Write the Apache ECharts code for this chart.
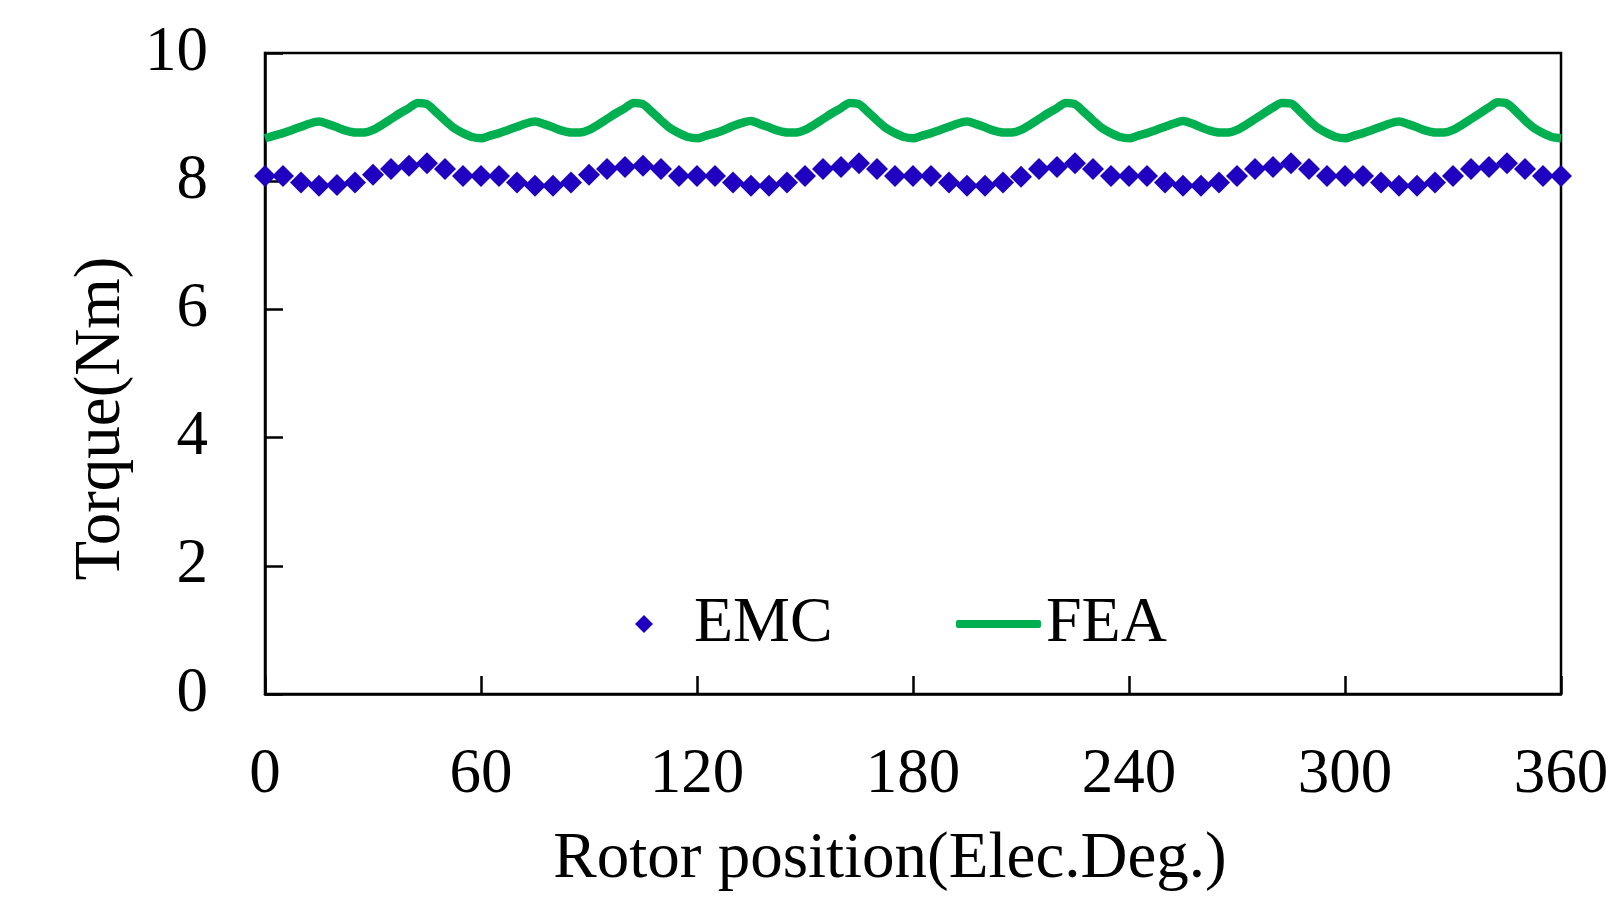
<!DOCTYPE html>
<html lang="en">
<head>
    <meta charset="UTF-8">
    <title>Torque</title>
    <script src="https://cdn.jsdelivr.net/npm/echarts@6/dist/echarts.min.js"></script>
    <style>
        body { margin: 0; background: #fff; }
    </style>
</head>
<body>
<div id="main" style="width: 1606px;height: 898px"></div>
<script>
    // EMC: one point every 5 elec. deg, 0..360
    var emcDeg = [0, 5, 10, 15, 20, 25, 30, 35, 40, 45, 50, 55,
        60, 65, 70, 75, 80, 85, 90, 95, 100, 105, 110, 115,
        120, 125, 130, 135, 140, 145, 150, 155, 160, 165, 170, 175,
        180, 185, 190, 195, 200, 205, 210, 215, 220, 225, 230, 235,
        240, 245, 250, 255, 260, 265, 270, 275, 280, 285, 290, 295,
        300, 305, 310, 315, 320, 325, 330, 335, 340, 345, 350, 355,
        360];
    var emcTorque = [8.08, 8.08, 7.98, 7.93, 7.94, 7.98, 8.10, 8.19, 8.24, 8.28, 8.19, 8.08,
        8.08, 8.08, 7.98, 7.93, 7.93, 7.98, 8.10, 8.19, 8.22, 8.24, 8.19, 8.08,
        8.08, 8.08, 7.98, 7.93, 7.93, 7.98, 8.08, 8.19, 8.22, 8.28, 8.19, 8.08,
        8.08, 8.08, 7.98, 7.93, 7.93, 7.98, 8.07, 8.19, 8.22, 8.28, 8.19, 8.08,
        8.08, 8.08, 7.98, 7.93, 7.93, 7.98, 8.08, 8.19, 8.22, 8.28, 8.19, 8.08,
        8.08, 8.08, 7.98, 7.93, 7.93, 7.98, 8.08, 8.19, 8.22, 8.28, 8.19, 8.08,
        8.08];

    // FEA: one point every 2.5 elec. deg, 0..360
    var feaTorque = [
        8.67, 8.71, 8.75, 8.80, 8.85, 8.90, 8.93, 8.89, 8.84, 8.79, 8.76, 8.76,
        8.80, 8.88, 8.97, 9.06, 9.14, 9.22, 9.20, 9.08, 8.95, 8.83, 8.75, 8.69,
        8.67, 8.71, 8.75, 8.80, 8.85, 8.90, 8.93, 8.89, 8.84, 8.79, 8.76, 8.76,
        8.80, 8.88, 8.97, 9.06, 9.14, 9.22, 9.20, 9.08, 8.95, 8.83, 8.75, 8.69,
        8.67, 8.71, 8.75, 8.80, 8.86, 8.91, 8.94, 8.89, 8.84, 8.79, 8.76, 8.76,
        8.80, 8.88, 8.97, 9.06, 9.14, 9.22, 9.20, 9.08, 8.95, 8.83, 8.75, 8.69,
        8.67, 8.71, 8.75, 8.80, 8.85, 8.90, 8.93, 8.89, 8.84, 8.79, 8.76, 8.76,
        8.80, 8.88, 8.97, 9.06, 9.14, 9.22, 9.20, 9.08, 8.95, 8.83, 8.75, 8.69,
        8.67, 8.71, 8.75, 8.80, 8.85, 8.90, 8.94, 8.90, 8.84, 8.79, 8.76, 8.76,
        8.80, 8.88, 8.97, 9.06, 9.15, 9.22, 9.21, 9.09, 8.95, 8.83, 8.75, 8.69,
        8.67, 8.71, 8.75, 8.80, 8.85, 8.90, 8.93, 8.89, 8.84, 8.79, 8.76, 8.76,
        8.80, 8.88, 8.97, 9.06, 9.15, 9.23, 9.21, 9.09, 8.95, 8.83, 8.75, 8.69,
        8.67];
    var feaStep = 2.5;

    var xTicks = [0, 60, 120, 180, 240, 300, 360];
    var yTicks = [0, 2, 4, 6, 8, 10];

    var emcData = [], feaData = [];
    for (var i = 0; i < emcDeg.length; i++) {
        emcData.push([emcDeg[i], emcTorque[i]]);
    }
    for (var j = 0; j < feaTorque.length; j++) {
        feaData.push([j * feaStep, feaTorque[j]]);
    }

    var serif = 'Liberation Serif, Times New Roman, serif';
    var myChart = echarts.init(document.getElementById('main'));
    var option = {
        backgroundColor: '#fff',
        animation: false,
        grid: {
            left: 265,
            top: 53,
            right: 45,
            bottom: 204,
            outerBoundsMode: 'none',
            containLabel: false,
            show: true,
            borderColor: '#000',
            borderWidth: 2.5
        },
        legend: [
            {   // EMC
                data: [{name: 'EMC', icon: 'diamond'}],
                left: 630,
                top: 587,
                itemWidth: 18,
                itemHeight: 18,
                itemStyle: {opacity: 1},
                textStyle: {fontFamily: serif, fontSize: 64, color: '#000', padding: [0, 0, 0, 36]}
            },
            {   // FEA
                data: [{name: 'FEA', icon: 'roundRect'}],
                left: 951,
                top: 587,
                itemWidth: 85,
                itemHeight: 8,
                textStyle: {fontFamily: serif, fontSize: 64, color: '#000'}
            }
        ],
        xAxis: {
            type: 'value',
            min: 0,
            max: 360,
            interval: 60,
            name: 'Rotor position(Elec.Deg.)',
            nameLocation: 'middle',
            nameGap: 133,
            nameTextStyle: {fontFamily: serif, fontSize: 65, color: '#000', padding: [0, 46, 0, 0]},
            axisLine: {lineStyle: {color: '#000', width: 2.5}},
            axisTick: {inside: true, length: 18, lineStyle: {color: '#000', width: 2.5}},
            axisLabel: {
                fontFamily: serif, fontSize: 63, color: '#000', margin: 50,
                formatter: function (v) { return xTicks.indexOf(v) >= 0 ? String(v) : ''; }
            },
            splitLine: {show: false}
        },
        yAxis: {
            type: 'value',
            min: 0,
            max: 10,
            interval: 2,
            name: 'Torque(Nm)',
            nameLocation: 'middle',
            nameGap: 122,
            nameTextStyle: {fontFamily: serif, fontSize: 65, color: '#000', padding: [0, 90, 0, 0]},
            axisLine: {lineStyle: {color: '#000', width: 2.5}},
            axisTick: {inside: true, length: 18, lineStyle: {color: '#000', width: 2.5}},
            axisLabel: {
                fontFamily: serif, fontSize: 63, color: '#000', margin: 57,
                formatter: function (v) { return yTicks.indexOf(v) >= 0 ? String(v) : ''; }
            },
            splitLine: {show: false}
        },
        series: [
            {
                name: 'EMC',
                type: 'scatter',
                symbol: 'diamond',
                symbolSize: 22,
                itemStyle: {color: '#2000C0', opacity: 1},
                data: emcData,
                z: 3
            },
            {
                name: 'FEA',
                type: 'line',
                showSymbol: false,
                symbol: 'none',
                smooth: 0.3,
                lineStyle: {color: '#00B050', width: 8.5},
                itemStyle: {color: '#00B050'},
                data: feaData,
                z: 2
            }
        ]
    };
    myChart.setOption(option);
</script>
</body>
</html>
